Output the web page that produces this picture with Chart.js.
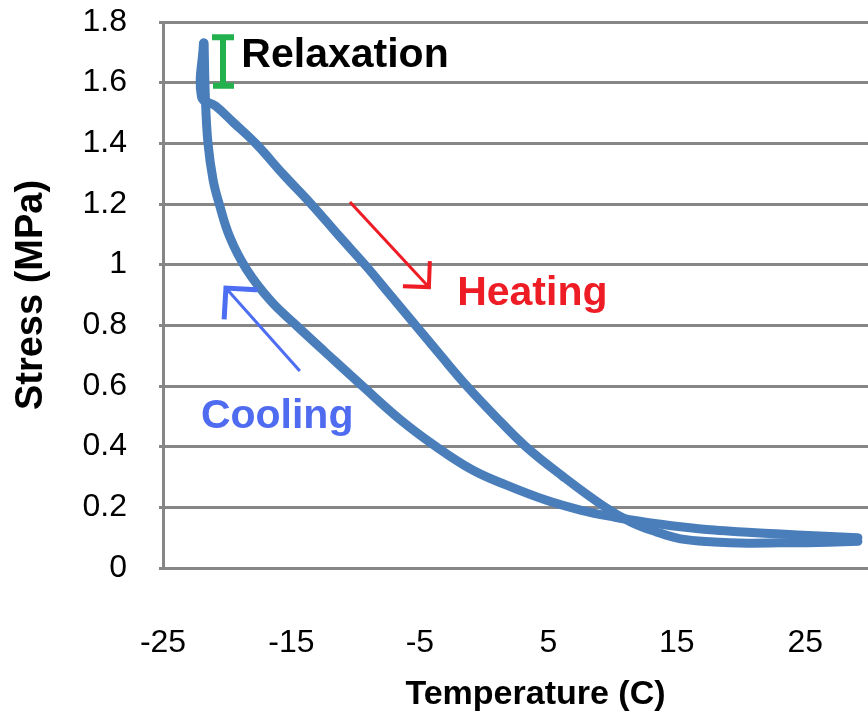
<!DOCTYPE html>
<html>
<head>
<meta charset="utf-8">
<script src="https://cdn.jsdelivr.net/npm/chart.js@4.4.1/dist/chart.umd.min.js"></script>
<style>
  html, body { margin: 0; padding: 0; background: #fff; }
  #wrap { width: 868px; height: 712px; overflow: hidden; }
</style>
</head>
<body>
<div id="wrap"><canvas id="chart" width="908" height="712"></canvas></div>
<script>
// Cooling branch, from warm end back up to the top of the loop
const coolTemp   = [29.1, 25.7, 23.1, 20.5, 17.9, 15.3, 12.7, 10.1, 7.5, 4.8, 1.7, -0.9, -3.7, -6.5, -9.4, -12.4, -14.5, -16.6, -18.5, -19.8, -20.65, -21.1, -21.5, -21.7, -21.8];
const coolStress = [0.10, 0.106, 0.112, 0.118, 0.125, 0.136, 0.15, 0.168, 0.191, 0.224, 0.274, 0.323, 0.399, 0.488, 0.597, 0.713, 0.795, 0.88, 0.985, 1.091, 1.204, 1.279, 1.401, 1.55, 1.731];

// Heating branch, after relaxation at the cold end
const heatTemp   = [-21.85, -22.0, -20.9, -19.55, -17.75, -15.6, -13.4, -11.3, -9.2, -7.25, -5.3, -3.35, -1.35, 0.85, 3.2, 6.1, 9.3, 11.4, 13.4, 15.3, 17.9, 20.5, 23.1, 26.0, 29.1];
const heatStress = [1.731, 1.553, 1.523, 1.47, 1.398, 1.296, 1.197, 1.095, 0.996, 0.897, 0.798, 0.699, 0.60, 0.501, 0.402, 0.303, 0.204, 0.152, 0.119, 0.096, 0.086, 0.082, 0.083, 0.084, 0.088];

const xTicks = [-25, -15, -5, 5, 15, 25];
const yTicks = [0, 0.2, 0.4, 0.6, 0.8, 1, 1.2, 1.4, 1.6, 1.8];
const yTickLabels = ['0', '0.2', '0.4', '0.6', '0.8', '1', '1.2', '1.4', '1.6', '1.8'];

// annotation anchors in data units [temperature, stress]
const relaxBar = { temp: -20.33, top: 1.75, bottom: 1.59 };
const relaxLabel = [-18.9, 1.652];
const heatLabel = [-2.1, 0.867];
const coolLabel = [-22.05, 0.462];
const heatArrow = [[-10.37, 1.203], [-4.3, 0.926]];
const coolArrow = [[-14.42, 0.653], [-20.1, 0.923]];

const lineBlue = '#4a7ebb';
const gridGray = '#868686';
const tickFont = { family: '"Liberation Sans", Arial, sans-serif', size: 32 };

function toPoints(xs, ys) {
    return xs.map((t, i) => ({ x: t, y: ys[i] }));
}

function drawArrow(ctx, x0, y0, x1, y1, color, shaft, head, len) {
    const ang = Math.atan2(y1 - y0, x1 - x0);
    ctx.strokeStyle = color;
    ctx.lineCap = 'square';
    ctx.lineWidth = shaft;
    ctx.beginPath();
    ctx.moveTo(x0, y0);
    ctx.lineTo(x1, y1);
    ctx.stroke();
    ctx.lineWidth = head;
    ctx.beginPath();
    ctx.moveTo(x1 + len * Math.cos(ang + Math.PI - Math.PI / 4), y1 + len * Math.sin(ang + Math.PI - Math.PI / 4));
    ctx.lineTo(x1, y1);
    ctx.lineTo(x1 + len * Math.cos(ang + Math.PI + Math.PI / 4), y1 + len * Math.sin(ang + Math.PI + Math.PI / 4));
    ctx.stroke();
}

// labels, arrows and the relaxation bar on top of the curve
const annotations = {
    id: 'annotations',
    afterDatasetsDraw(chart) {
        const { ctx, scales: { x, y } } = chart;
        const px = v => x.getPixelForValue(v);
        const py = v => y.getPixelForValue(v);
        ctx.save();

        // green I-bar
        const bx = px(relaxBar.temp);
        ctx.strokeStyle = '#22b14c';
        ctx.lineWidth = 6;
        ctx.lineCap = 'butt';
        ctx.beginPath();
        ctx.moveTo(bx, py(relaxBar.top));
        ctx.lineTo(bx, py(relaxBar.bottom));
        ctx.moveTo(bx - 11, py(relaxBar.top));
        ctx.lineTo(bx + 11, py(relaxBar.top));
        ctx.moveTo(bx - 10, py(relaxBar.bottom));
        ctx.lineTo(bx + 11, py(relaxBar.bottom));
        ctx.stroke();

        ctx.font = 'bold 41px "Liberation Sans", Arial, sans-serif';
        ctx.textAlign = 'left';
        ctx.textBaseline = 'alphabetic';
        ctx.fillStyle = '#000000';
        ctx.fillText('Relaxation', px(relaxLabel[0]), py(relaxLabel[1]));
        ctx.fillStyle = '#ee1c25';
        ctx.fillText('Heating', px(heatLabel[0]), py(heatLabel[1]));
        ctx.fillStyle = '#4f6bf0';
        ctx.fillText('Cooling', px(coolLabel[0]), py(coolLabel[1]));

        drawArrow(ctx, px(heatArrow[0][0]), py(heatArrow[0][1]), px(heatArrow[1][0]), py(heatArrow[1][1]), '#ee1c25', 3, 4, 24);
        drawArrow(ctx, px(coolArrow[0][0]), py(coolArrow[0][1]), px(coolArrow[1][0]), py(coolArrow[1][1]), '#4d6ef2', 3, 5, 29);
        ctx.restore();
    }
};

new Chart(document.getElementById('chart'), {
    type: 'scatter',
    data: {
        datasets: [{
            label: 'Cooling',
            data: toPoints(coolTemp, coolStress),
            showLine: true
        }, {
            label: 'Heating',
            data: toPoints(heatTemp, heatStress),
            showLine: true
        }]
    },
    options: {
        responsive: false,
        animation: false,
        devicePixelRatio: 1,
        layout: { padding: { top: 22, left: 0, right: 0, bottom: 0 } },
        elements: {
            point: { radius: 0, hoverRadius: 0 },
            line: { borderColor: lineBlue, borderWidth: 9, tension: 0.4, borderCapStyle: 'round', borderJoinStyle: 'round' }
        },
        plugins: {
            legend: { display: false },
            tooltip: { enabled: false }
        },
        scales: {
            x: {
                type: 'linear',
                min: -25,
                max: 33,
                afterBuildTicks: s => { s.ticks = xTicks.map(v => ({ value: v })); },
                afterFit: s => { s.height = 144; s.paddingLeft = 0; s.paddingRight = 0; },
                grid: { display: false },
                border: { display: true, color: gridGray, width: 3 },
                ticks: { font: tickFont, color: '#000', padding: 48, maxRotation: 0, autoSkip: false },
                title: {
                    display: true,
                    text: 'Temperature (C)',
                    color: '#000',
                    font: { family: '"Liberation Sans", Arial, sans-serif', size: 34, weight: 'bold' },
                    padding: { top: 0, bottom: -3 }
                }
            },
            y: {
                min: 0,
                max: 1.8,
                afterBuildTicks: s => { s.ticks = yTicks.map(v => ({ value: v })); },
                afterFit: s => { s.width = 163; s.paddingTop = 0; s.paddingBottom = 0; },
                grid: { color: gridGray, lineWidth: 3, drawTicks: true, tickLength: 4, tickColor: gridGray },
                border: { display: true, color: gridGray, width: 3 },
                ticks: { font: tickFont, color: '#000', padding: 32, autoSkip: false, callback: (v, i) => yTickLabels[i] },
                title: {
                    display: true,
                    text: 'Stress (MPa)',
                    color: '#000',
                    font: { family: '"Liberation Sans", Arial, sans-serif', size: 38, weight: 'bold' },
                    padding: { top: 9, bottom: 0 }
                }
            }
        }
    },
    plugins: [annotations]
});
</script>
</body>
</html>
